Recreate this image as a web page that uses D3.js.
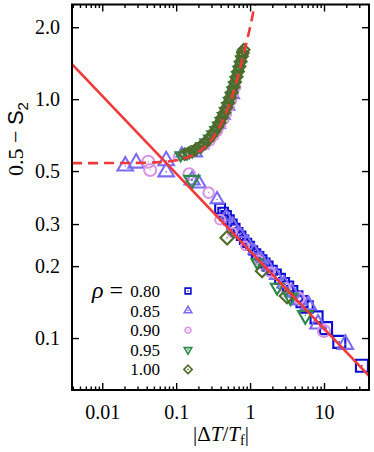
<!DOCTYPE html>
<html>
<head>
<meta charset="utf-8">
<script src="https://cdn.jsdelivr.net/npm/d3@7"></script>
<style>
  body { margin: 0; background: #fff; }
  svg text { font-family: "Liberation Serif", "DejaVu Serif", serif; fill: #000; }
</style>
</head>
<body>
<svg id="chart"></svg>
<script>
const CONF = {
    width: 374,
    height: 452,
    left: 72,
    right: 369,
    top: 4.5,
    bottom: 390,
}

// axis ticks
const xTicks = [0.01, 0.1, 1, 10]
const xTickLabels = ["0.01", "0.1", "1", "10"]
const yTicks = [0.1, 0.2, 0.3, 0.5, 1.0, 2.0]
const yTickLabels = ["0.1", "0.2", "0.3", "0.5", "1.0", "2.0"]
const rhoLabels = ["0.80", "0.85", "0.90", "0.95", "1.00"]

// rho = 0.80 (squares), lower branch only
const rho080 = [[0.393, 0.348], [0.432, 0.335], [0.474, 0.325], [0.520, 0.312], [0.571, 0.300],
    [0.627, 0.288], [0.688, 0.277], [0.756, 0.268], [0.830, 0.258], [0.911, 0.250], [1.000, 0.243],
    [1.098, 0.233], [1.205, 0.226], [1.323, 0.220], [1.452, 0.213], [1.595, 0.206], [1.751, 0.200],
    [1.983, 0.192], [2.245, 0.185], [2.543, 0.177], [2.880, 0.170], [3.262, 0.164], [3.695, 0.157],
    [4.31, 0.149], [5.04, 0.142], [5.89, 0.135], [7.93, 0.122], [10.65, 0.110], [16.1, 0.0964],
    [32.6, 0.0766]]

// rho = 0.85 (triangles)
const rho085Lower = [[0.0205, 0.525], [0.0288, 0.540], [0.0733, 0.552], [0.0733, 0.496], [0.1645, 0.458],
    [0.2014, 0.444], [0.358, 0.380], [0.474, 0.322], [0.589, 0.297], [0.733, 0.274], [0.911, 0.253],
    [1.133, 0.233], [1.408, 0.215], [1.751, 0.200], [2.245, 0.183], [2.880, 0.169], [3.695, 0.156],
    [4.74, 0.144], [6.14, 0.1375], [8.30, 0.1145], [19.4, 0.0941]]
const rho085Upper = [[0.119, 0.593], [0.19, 0.593], [0.23, 0.64], [0.277, 0.69], [0.33, 0.73],
    [0.39, 0.78], [0.45, 0.85], [0.52, 0.93], [0.60, 1.04]]

// rho = 0.90 (circles)
const rho090Lower = [[0.0419, 0.547], [0.0445, 0.505], [0.150, 0.486], [0.275, 0.406], [0.393, 0.313],
    [0.571, 0.277], [0.856, 0.243], [1.283, 0.213], [1.863, 0.189], [2.97, 0.162], [4.59, 0.147],
    [10.0, 0.107]]
const rho090Upper = [[0.105, 0.575], [0.13, 0.59], [0.17, 0.608], [0.21, 0.62], [0.25, 0.64],
    [0.29, 0.665], [0.33, 0.70], [0.37, 0.735], [0.41, 0.775], [0.45, 0.82], [0.49, 0.87],
    [0.53, 0.925], [0.57, 0.985], [0.61, 1.05], [0.65, 1.12]]

// rho = 0.95 (down triangles)
const rho095Lower = [[0.163, 0.458], [1.243, 0.207], [2.32, 0.163], [3.52, 0.148], [5.59, 0.1245]]
const rho095Upper = [[0.115, 0.582], [0.14, 0.592], [0.165, 0.604], [0.19, 0.618], [0.22, 0.637],
    [0.25, 0.659], [0.28, 0.684], [0.31, 0.712], [0.34, 0.742], [0.37, 0.775], [0.40, 0.811],
    [0.43, 0.850], [0.46, 0.892], [0.49, 0.936], [0.52, 0.983], [0.55, 1.034], [0.58, 1.086],
    [0.61, 1.142], [0.64, 1.201], [0.67, 1.262], [0.70, 1.326], [0.73, 1.393], [0.76, 1.463],
    [0.79, 1.535]]

// rho = 1.00 (diamonds)
const rho100Lower = [[0.489, 0.263], [1.452, 0.191], [3.162, 0.150]]
const rho100Upper = [[0.13, 0.588], [0.15, 0.597], [0.18, 0.612], [0.21, 0.630], [0.24, 0.651],
    [0.27, 0.675], [0.30, 0.702], [0.33, 0.732], [0.36, 0.764], [0.39, 0.799], [0.42, 0.837],
    [0.45, 0.878], [0.48, 0.921], [0.51, 0.967], [0.54, 1.017], [0.57, 1.068], [0.60, 1.123],
    [0.63, 1.181], [0.66, 1.241], [0.69, 1.304], [0.72, 1.370], [0.75, 1.439], [0.78, 1.511],
    [0.80, 1.56], [0.82, 1.61]]

// power-law fit (solid) and the upper-branch curve (dashed)
const fitLine = [[0.0039, 1.40], [40.6, 0.0694]]
const dashCurve = [[0.0039, 0.54], [0.01, 0.54], [0.03, 0.541], [0.06, 0.545], [0.1, 0.555],
    [0.15, 0.574], [0.2, 0.60], [0.3, 0.675], [0.4, 0.78], [0.5, 0.915], [0.6, 1.08], [0.7, 1.275],
    [0.8, 1.50], [0.9, 1.74], [1.0, 2.0], [1.1, 2.3], [1.2, 2.62]]

const series = [
    { shape: "square", color: "#0c0cd2", lower: rho080, upper: [] },
    { shape: "triUp", color: "#7c6cf4", lower: rho085Lower, upper: rho085Upper },
    { shape: "circle", color: "#d895e2", lower: rho090Lower, upper: rho090Upper },
    { shape: "triDown", color: "#2b8a48", lower: rho095Lower, upper: rho095Upper },
    { shape: "diamond", color: "#4f6a2a", lower: rho100Lower, upper: rho100Upper },
]

const svg = d3.select("svg#chart").attr("width", CONF.width).attr("height", CONF.height)

const x = d3.scaleLog().domain([0.0039, 40.6]).range([CONF.left, CONF.right])
const y = d3.scaleLog().domain([0.0606, 2.49]).range([CONF.bottom, CONF.top])
const sizeScale = d3.scaleLinear().domain([0, 0.9]).range([8, 12]).clamp(true)

svg.append("defs").append("clipPath").attr("id", "plotclip")
    .append("rect")
    .attr("x", CONF.left).attr("y", CONF.top)
    .attr("width", CONF.right - CONF.left).attr("height", CONF.bottom - CONF.top)

function shapePath(type, s) {
    let r = s / 2
    if (type == "square") {
        return `M${-r},${-r}h${s}v${s}h${-s}Z`
    } else if (type == "triUp" || type == "triDown") {
        let w = s * 1.3, h = w * 0.866
        let k = type == "triUp" ? 1 : -1
        return `M0,${-k * h * 2 / 3}L${w / 2},${k * h / 3}L${-w / 2},${k * h / 3}Z`
    } else if (type == "circle") {
        return `M${r},0A${r},${r} 0 1,1 ${-r},0A${r},${r} 0 1,1 ${r},0`
    } else {
        let d = s * 0.72
        return `M0,${-d}L${d},0L0,${d}L${-d},0Z`
    }
}

// minor x ticks
let xMinor = []
for (let e = -3; e <= 1; e++) {
    for (let m = 2; m <= 9; m++) {
        let v = m * Math.pow(10, e)
        if (v > 0.0039 && v < 40.6) xMinor.push(v)
    }
}

function styleAxis(g) {
    g.select(".domain").remove()
    g.selectAll(".tick line").attr("stroke", "#000").attr("stroke-width", 1.4)
    g.selectAll(".tick text")
        .style("font-family", "'Liberation Serif', serif")
        .style("font-size", "20px")
}

svg.append("g").attr("transform", `translate(0,${CONF.bottom})`)
    .call(d3.axisBottom(x).tickValues(xTicks).tickFormat((d, i) => xTickLabels[i]).tickSize(-7).tickPadding(15))
    .call(styleAxis)
svg.append("g").attr("transform", `translate(0,${CONF.bottom})`)
    .call(d3.axisBottom(x).tickValues(xMinor).tickFormat("").tickSize(-3.5))
    .call(styleAxis)
svg.append("g").attr("transform", `translate(0,${CONF.top})`)
    .call(d3.axisTop(x).tickValues(xTicks).tickFormat("").tickSize(-7))
    .call(styleAxis)
svg.append("g").attr("transform", `translate(0,${CONF.top})`)
    .call(d3.axisTop(x).tickValues(xMinor).tickFormat("").tickSize(-3.5))
    .call(styleAxis)
svg.append("g").attr("transform", `translate(${CONF.left},0)`)
    .call(d3.axisLeft(y).tickValues(yTicks).tickFormat((d, i) => yTickLabels[i]).tickSize(-7).tickPadding(12))
    .call(styleAxis)
svg.append("g").attr("transform", `translate(${CONF.right},0)`)
    .call(d3.axisRight(y).tickValues(yTicks).tickFormat("").tickSize(-7))
    .call(styleAxis)

// data points
let plot = svg.append("g").attr("clip-path", "url(#plotclip)")

series.forEach(s => {
    let pts = s.lower.map(p => ({ p: p, size: sizeScale(Math.abs(Math.log10(p[0]))) }))
        .concat(s.upper.map(p => ({ p: p, size: 8 })))
    let g = plot.selectAll()
        .data(pts)
        .enter()
        .append("g")
        .attr("transform", d => `translate(${x(d.p[0])},${y(d.p[1])})`)
    g.append("path")
        .attr("d", d => shapePath(s.shape, d.size))
        .attr("fill", "none")
        .attr("stroke", s.color)
        .attr("stroke-width", 2.1)
    g.append("circle")
        .attr("r", 0.8)
        .attr("fill", s.color)
})

let line = d3.line().x(d => x(d[0])).y(d => y(d[1]))

plot.append("path")
    .attr("d", line.curve(d3.curveMonotoneX)(dashCurve))
    .attr("fill", "none")
    .attr("stroke", "#f03a3a")
    .attr("stroke-width", 2.6)
    .attr("stroke-dasharray", "10,6")

plot.append("path")
    .attr("d", d3.line().x(d => x(d[0])).y(d => y(d[1]))(fitLine))
    .attr("fill", "none")
    .attr("stroke", "#f03a3a")
    .attr("stroke-width", 2.6)

// frame
svg.append("rect")
    .attr("x", CONF.left).attr("y", CONF.top)
    .attr("width", CONF.right - CONF.left).attr("height", CONF.bottom - CONF.top)
    .attr("fill", "none").attr("stroke", "#000").attr("stroke-width", 2)

// legend
let legend = svg.append("g")
legend.append("text")
    .attr("x", 92).attr("y", 298)
    .style("font-size", "24px")
    .html('<tspan font-style="italic">ρ</tspan> =')
rhoLabels.forEach((lab, i) => {
    let ly = 291 + i * 19.6
    legend.append("text")
        .attr("x", 160).attr("y", ly + 6)
        .attr("text-anchor", "end")
        .style("font-size", "17px")
        .text(lab)
    let g = legend.append("g").attr("transform", `translate(188,${ly})`)
    g.append("path")
        .attr("d", shapePath(series[i].shape, 5.8))
        .attr("fill", "none")
        .attr("stroke", series[i].color)
        .attr("stroke-width", 1.6)
    g.append("circle").attr("r", 0.8).attr("fill", series[i].color)
})

// axis titles
svg.append("text")
    .attr("transform", "translate(23,139) rotate(-90)")
    .attr("text-anchor", "middle")
    .style("font-size", "22px")
    .html('0.5 − <tspan style="font-family: \'Liberation Sans\', sans-serif">S</tspan><tspan dy="5" style="font-family: \'Liberation Sans\', sans-serif; font-size: 15px">2</tspan>')

svg.append("text")
    .attr("x", 221).attr("y", 441)
    .attr("text-anchor", "middle")
    .style("font-size", "21px")
    .html('|Δ<tspan font-style="italic">T</tspan>/<tspan font-style="italic">T</tspan><tspan dy="4" font-size="14px">f</tspan><tspan dy="-4">|</tspan>')
</script>
</body>
</html>
